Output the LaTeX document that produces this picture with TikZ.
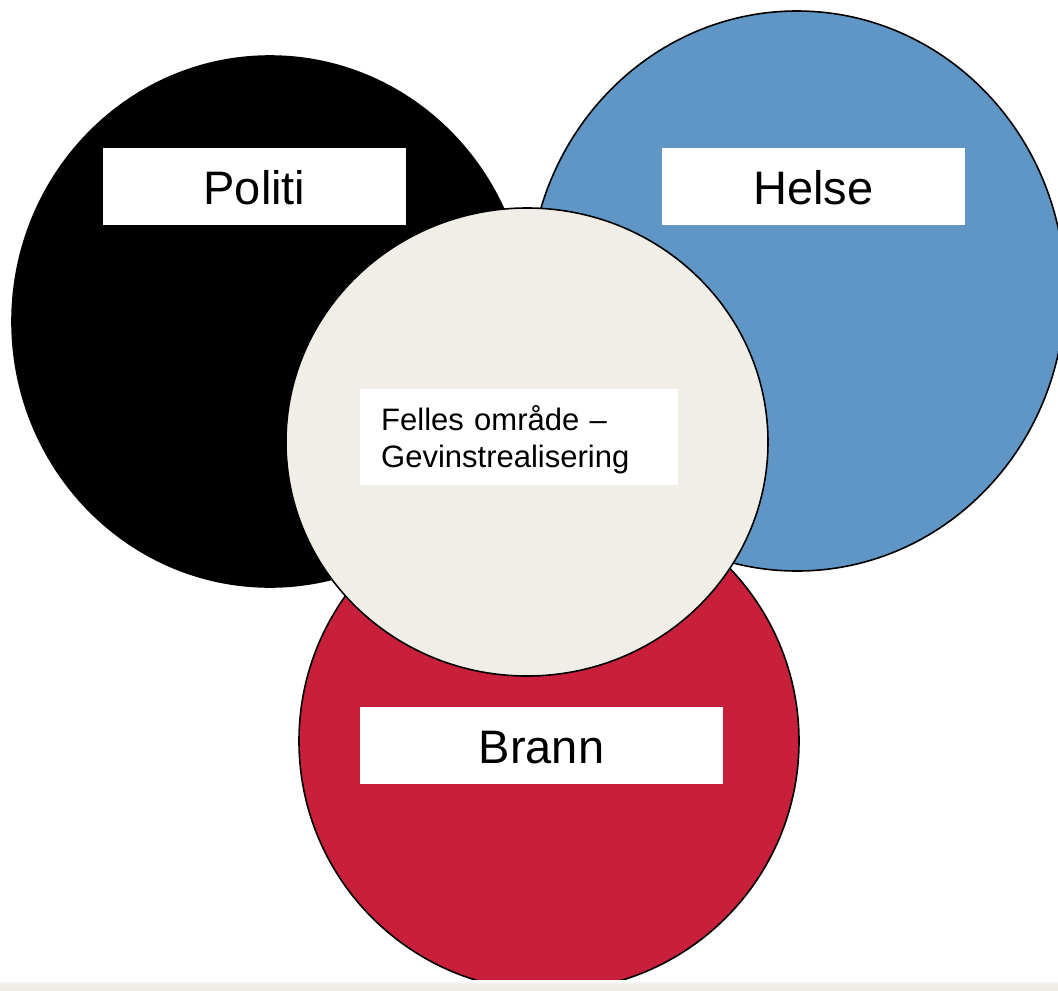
\documentclass[tikz,border=0pt]{standalone}
\usepackage{fontspec}
\setmainfont{Liberation Sans}
\usetikzlibrary{shapes.geometric, positioning}

\definecolor{helseblue}{HTML}{6096C6}
\definecolor{brannred}{HTML}{C81F3A}
\definecolor{fellesbeige}{HTML}{F0EEE6}
\definecolor{stripgray}{HTML}{ECEBE5}

\begin{document}
\begin{tikzpicture}[x=1pt,y=-1pt,
	sone/.style={ellipse,draw=black,line width=1.6pt,inner sep=0pt},
	etikett/.style={fill=white,inner sep=0pt,minimum width=303pt,minimum height=77pt,text height=40pt,text depth=4pt,font=\fontsize{47}{56}\selectfont}]
		\useasboundingbox (0,0) rectangle (1058,991);
		% the four areas
		\node[sone,fill=black,minimum width=516pt,minimum height=531pt] (politi) at (270,321.5) {};
		\node[sone,fill=helseblue,minimum width=536pt,minimum height=560pt] (helse) at (797,291) {};
		\node[sone,fill=brannred,minimum width=500pt,minimum height=500pt] (brann) at (549,741) {};
		\node[sone,fill=fellesbeige,minimum width=482pt,minimum height=468pt] (felles) at (527,442) {};
		% labels
		\node[etikett] (politilabel) at (254.5,186.5) {Politi};
		\node[etikett] (helselabel) at (813.5,186.5) {Helse};
		\node[etikett,minimum width=363pt] (brannlabel) at (541.5,745) {Brann};
		\node[fill=white,anchor=north west,inner xsep=21pt,inner ysep=0pt,text width=276pt,minimum height=96pt,align=left,
			text height=27pt,text depth=41pt,font=\fontsize{31}{37}\selectfont] (felleslabel) at (360,389) {Felles område –\\Gevinstrealisering};
		% bottom strip
		\shade[top color=white,bottom color=stripgray] (0,980) rectangle (1058,985);
		\fill[stripgray] (0,985) rectangle (1058,991);
	\end{tikzpicture}
\end{document}
